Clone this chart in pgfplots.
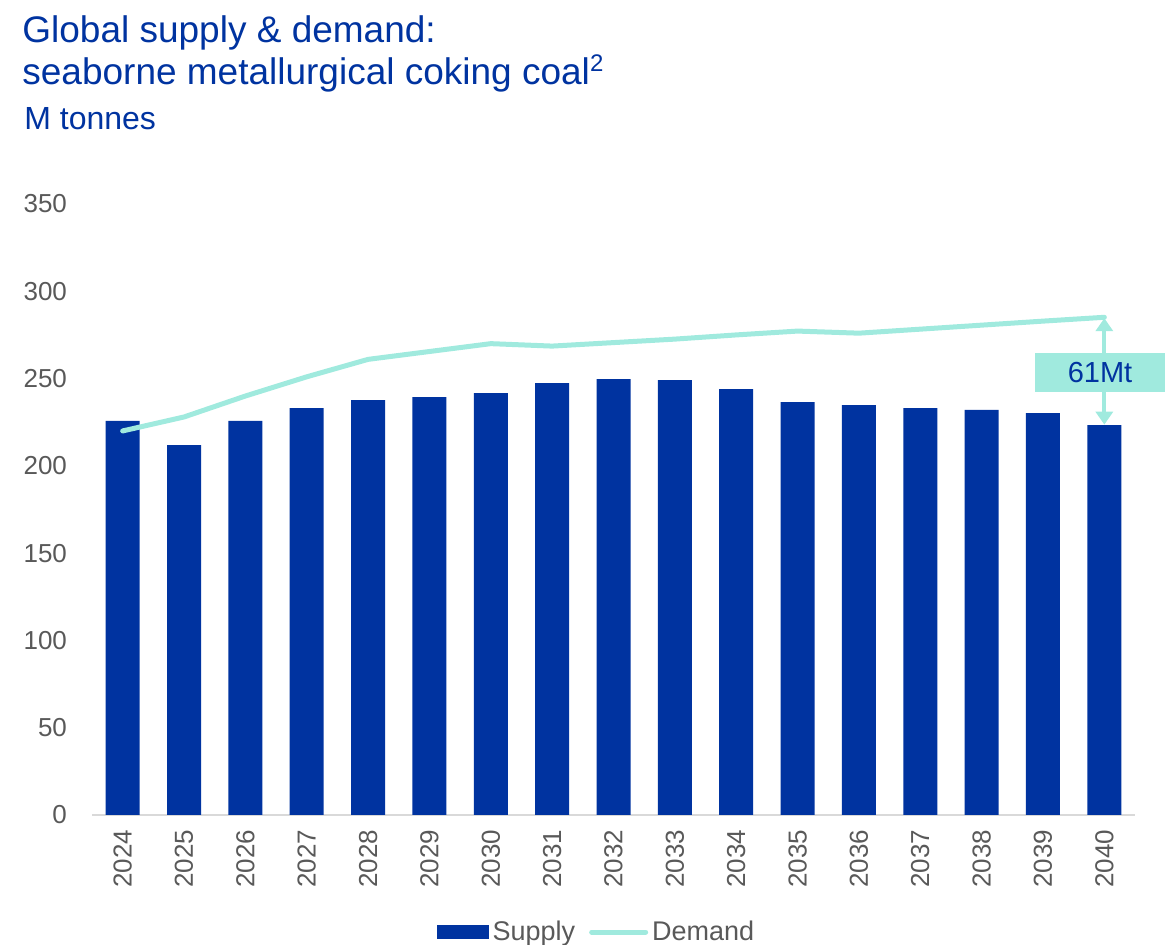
\documentclass[border=0pt]{standalone}
\usepackage{fontspec}
\setmainfont{Liberation Sans}
\usepackage{pgfplots}
\pgfplotsset{compat=1.18}
\usetikzlibrary{arrows.meta}

\definecolor{navy}{HTML}{0033A0}
\definecolor{mint}{HTML}{A0EADE}
\definecolor{ticktxt}{HTML}{595959}
\definecolor{axline}{HTML}{D9D9D9}

% supply (bars) and demand (line), M tonnes
\pgfplotstableread{
x year supply demand
0  2024 225.7 220.0
1  2025 211.9 228.0
2  2026 225.7 240.0
3  2027 233.0 251.0
4  2028 237.7 261.0
5  2029 239.4 265.5
6  2030 241.7 270.0
7  2031 247.4 268.6
8  2032 249.7 270.6
9  2033 249.1 272.6
10 2034 244.0 275.0
11 2035 236.5 277.2
12 2036 234.8 276.0
13 2037 233.0 278.3
14 2038 232.0 280.6
15 2039 230.2 282.9
16 2040 223.4 285.1
}\coal

\begin{document}
\begin{tikzpicture}
\useasboundingbox (-46pt,-65pt) rectangle (536.5pt,407.5pt);

\node[anchor=base west,text=navy,font=\fontsize{18.5}{21}\selectfont,inner sep=0pt] at (-35pt,386pt) {Global supply \& demand:};
\node[anchor=base west,text=navy,font=\fontsize{18.5}{21}\selectfont,inner sep=0pt] at (-35pt,365pt) {seaborne metallurgical coking coal{\fontsize{12}{14}\selectfont\raisebox{6.5pt}{2}}};
\node[anchor=base west,text=navy,font=\fontsize{16}{18}\selectfont,inner sep=0pt] at (-34pt,342.5pt) {M tonnes};

\begin{axis}[
    at={(0,0)}, anchor=south west,
    scale only axis,
    width=521.5pt, height=305.5pt,
    xmin=-0.5, xmax=16.5,
    ymin=0, ymax=350,
    ytick={0,50,...,350},
    xtick=data,
    xticklabels from table={\coal}{year},
    axis y line*=left,
    y axis line style={draw=none},
    axis x line*=bottom,
    x axis line style={axline, line width=1pt, -},
    major tick length=0pt,
    tick style={draw=none},
    /pgf/number format/assume math mode=true,
    tick label style={font=\fontsize{13}{15}\selectfont, text=ticktxt},
    yticklabel style={anchor=east, xshift=-9pt},
    xticklabel style={rotate=90, anchor=east, xshift=-4pt},
    clip=false,
    legend style={at={(0.33,-0.1915)}, anchor=west, draw=none, fill=none,
        inner sep=0pt, font=\fontsize{13.5}{15}\selectfont, text=ticktxt,
        legend columns=-1,
        /tikz/every even column/.append style={column sep=5pt}},
    legend cell align=left,
]
\addplot[ybar, bar width=17pt, fill=navy, draw=none, area legend,
    legend image code/.code={\fill[navy] (0pt,-3.5pt) rectangle (26pt,3.5pt);}]
    table[x=x, y=supply] {\coal};
\addlegendentry{Supply}
\addplot[mint, line width=2.5pt, line cap=round, line join=round,
    legend image code/.code={\draw[mint, line width=2.5pt, line cap=round] (0pt,0pt) -- (27pt,0pt);}]
    table[x=x, y=demand] {\coal};
\addlegendentry{Demand}

\draw[mint, line width=2pt,
    {Triangle[length=6.5pt,width=8.5pt]}-{Triangle[length=6.5pt,width=8.5pt]}]
    (axis cs:16,284.6) -- (axis cs:16,223.6);
\node[fill=mint, minimum width=65pt, minimum height=19.5pt, inner sep=0pt,
    text=navy, font=\fontsize{14.5}{16}\selectfont] at (axis cs:15.93,253.4) {61Mt};
\end{axis}
\end{tikzpicture}
\end{document}
